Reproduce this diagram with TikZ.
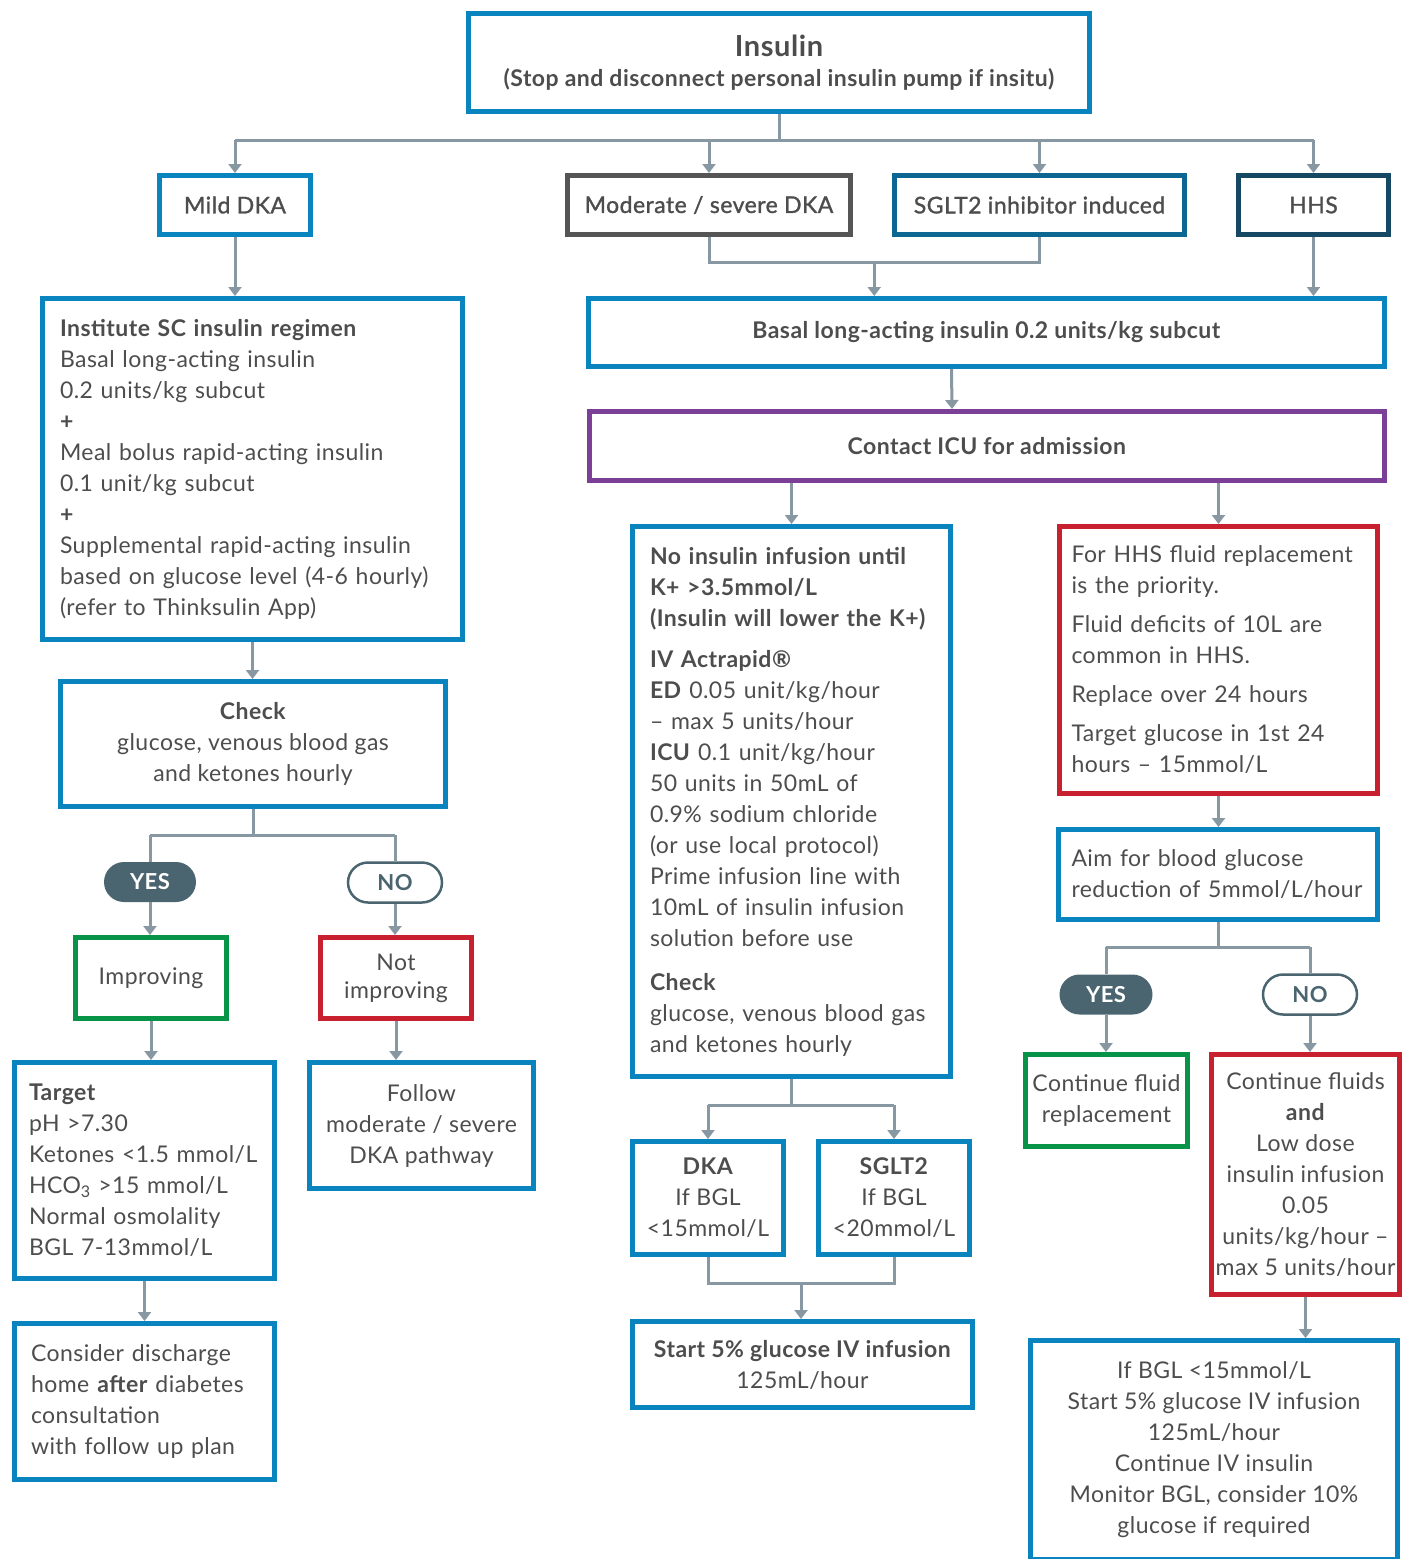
\documentclass[tikz,border=0pt]{standalone}
\usepackage{fontspec}
\setmainfont{Lato}[LetterSpace=2]
\newfontfamily\medfont{Lato}[LetterSpace=2,FakeBold=1.2]
\usetikzlibrary{arrows.meta,calc}
\definecolor{boxblue}{RGB}{10,132,190}
\definecolor{sgltblue}{RGB}{11,102,145}
\definecolor{hhsnavy}{RGB}{22,72,99}
\definecolor{modgrey}{RGB}{85,85,85}
\definecolor{icupurple}{RGB}{124,63,152}
\definecolor{alertred}{RGB}{200,32,46}
\definecolor{okgreen}{RGB}{8,148,72}
\definecolor{linkgrey}{RGB}{136,152,162}
\definecolor{pillgrey}{RGB}{74,101,112}
\definecolor{txtgrey}{RGB}{77,77,77}
\begin{document}
\begin{tikzpicture}[x=1pt,y=-1pt,
    box/.style={draw=boxblue,line width=5pt,inner sep=0pt,text=txtgrey,align=center,
      font=\fontsize{23}{31}\selectfont},
    lbox/.style={box,align=left},
    headbox/.style={box,minimum height=59pt,font=\fontsize{23}{31}\medfont},
    pill/.style={rounded corners=20pt,minimum height=40pt,inner sep=0pt,
      font=\fontsize{22}{26}\selectfont\bfseries},
    yespill/.style={pill,fill=pillgrey,text=white,minimum width=#1},
    nopill/.style={pill,draw=pillgrey,line width=2.5pt,fill=white,text=pillgrey,minimum width=#1},
    link/.style={draw=linkgrey,line width=3pt},
    arr/.style={link,-{Triangle[length=9pt,width=13pt]}}]
  \useasboundingbox (0,0) rectangle (1402,1559);
  % top row
  \node[box,minimum width=621pt,minimum height=98pt] (ins) at (779,62.5)
    {{\fontsize{29}{34}\selectfont\bfseries Insulin}\\[-1pt]\bfseries(Stop and disconnect personal insulin pump if insitu)};
  \node[headbox,minimum width=151pt] (mild) at (235,205) {Mild DKA};
  \node[headbox,draw=modgrey,minimum width=283pt] (mod) at (709,205) {Moderate / severe DKA};
  \node[headbox,draw=sgltblue,minimum width=290pt] (sglt) at (1039.5,205) {SGLT2 inhibitor induced};
  \node[headbox,draw=hhsnavy,minimum width=150pt] (hhs) at (1313.5,205) {HHS};
  % left branch
  \node[lbox,text width=385pt,minimum width=420pt,minimum height=341pt] (inst) at (252.5,469)
    {\textbf{Institute SC insulin regimen}\\Basal long-acting insulin\\0.2 units/kg subcut\\\textbf{+}\\
     Meal bolus rapid-acting insulin\\0.1 unit/kg subcut\\\textbf{+}\\Supplemental rapid-acting insulin\\
     based on glucose level (4-6 hourly)\\(refer to Thinksulin App)};
  \node[box,minimum width=385pt,minimum height=125pt] (check) at (253,744)
    {\textbf{Check}\\glucose, venous blood gas\\and ketones hourly};
  \node[yespill=92pt] (yes1) at (150,882) {YES};
  \node[nopill=94pt] (no1) at (395,882.5) {NO};
  \node[box,draw=okgreen,minimum width=151pt,minimum height=81pt] (impr) at (151,978) {Improving};
  \node[box,draw=alertred,minimum width=151pt,minimum height=81pt] (notimp) at (396,978) {Not\\[-3pt]improving};
  \node[lbox,text width=231pt,minimum width=260pt,minimum height=216pt] (target) at (144.5,1170.5)
    {\textbf{Target}\\pH >7.30\\Ketones <1.5 mmol/L\\HCO\textsubscript{3} >15 mmol/L\\Normal osmolality\\BGL 7-13mmol/L};
  \node[box,minimum width=224pt,minimum height=126pt] (follow) at (421.5,1125.5)
    {Follow\\moderate / severe\\DKA pathway};
  \node[lbox,text width=227pt,minimum width=260pt,minimum height=156pt] (discharge) at (144.5,1401.5)
    {Consider discharge\\home \textbf{after} diabetes\\consultation\\with follow up plan};
  % middle and right branch
  \node[box,minimum width=796pt,minimum height=68pt] (basal) at (986.5,332.5)
    {\textbf{Basal long-acting insulin 0.2 units/kg subcut}};
  \node[box,draw=icupurple,minimum width=795pt,minimum height=69pt] (icu) at (987,446)
    {\textbf{Contact ICU for admission}};
  \node[lbox,text width=283pt,minimum width=318pt,minimum height=550pt] (noins) at (791.5,801.5)
    {\textbf{No insulin infusion until}\\\textbf{K+ >3.5mmol/L}\\\textbf{(Insulin will lower the K+)}\\[10pt]
     \textbf{IV Actrapid®}\\\textbf{ED} 0.05 unit/kg/hour\\– max 5 units/hour\\\textbf{ICU} 0.1 unit/kg/hour\\
     50 units in 50mL of\\0.9\% sodium chloride\\(or use local protocol)\\Prime infusion line with\\
     10mL of insulin infusion\\solution before use\\[13pt]\textbf{Check}\\glucose, venous blood gas\\and ketones hourly};
  \node[box,minimum width=151pt,minimum height=113pt] (dka) at (708,1198) {\textbf{DKA}\\If BGL\\<15mmol/L};
  \node[box,minimum width=151pt,minimum height=113pt] (sgltb) at (894,1198) {\textbf{SGLT2}\\If BGL\\<20mmol/L};
  \node[box,minimum width=340pt,minimum height=86pt] (start) at (802.5,1364.5)
    {\textbf{Start 5\% glucose IV infusion}\\125mL/hour};
  \node[lbox,draw=alertred,text width=294pt,minimum width=318pt,minimum height=267pt] (hhsbox) at (1218.5,660)
    {For HHS fluid replacement\\is the priority.\\[8pt]Fluid deficits of 10L are\\common in HHS.\\[8pt]
     Replace over 24 hours\\[8pt]Target glucose in 1st 24\\hours – 15mmol/L};
  \node[lbox,text width=293pt,minimum width=319pt,minimum height=90pt] (aim) at (1218,874.5)
    {Aim for blood glucose\\reduction of 5mmol/L/hour};
  \node[yespill=93pt] (yes2) at (1106,994.5) {YES};
  \node[nopill=94pt] (no2) at (1310,994.5) {NO};
  \node[box,draw=okgreen,minimum width=162pt,minimum height=92pt] (contfl) at (1106.5,1100.5)
    {Continue fluid\\replacement};
  \node[box,draw=alertred,minimum width=188pt,minimum height=240pt] (lowdose) at (1305.5,1174.5)
    {Continue fluids\\\textbf{and}\\Low dose\\insulin infusion\\0.05\\units/kg/hour –\\max 5 units/hour};
  \node[box,minimum width=367pt,minimum height=219pt] (ifbgl) at (1214,1450)
    {If BGL <15mmol/L\\Start 5\% glucose IV infusion\\125mL/hour\\Continue IV insulin\\
     Monitor BGL, consider 10\%\\glucose if required};
  % connectors
  \draw[link] (ins.south) -- ++(0,26) coordinate (insbus);
  \draw[link] (insbus -| mild) -- (insbus -| hhs);
  \foreach \n in {mild,mod,sglt,hhs}
    \draw[arr] (insbus -| \n) -- (\n.north);
  \draw[link] (mod.south) -- ++(0,25) -| (sglt.south);
  \coordinate (modjoin) at ($(mod.south)!0.5!(sglt.south)+(0,25)$);
  \draw[arr] (modjoin) -- (modjoin |- basal.north);
  \draw[arr] (hhs.south) -- (hhs.south |- basal.north);
  \draw[arr] ([xshift=-35pt]basal.south) -- ([xshift=-35pt]icu.north);
  \draw[arr] (icu.south -| noins) -- (noins.north);
  \draw[arr] (icu.south -| hhsbox) -- (hhsbox.north);
  \draw[arr] (hhsbox.south) -- (hhsbox.south |- aim.north);
  \draw[link] (aim.south) -- ++(0,25) coordinate (aimbus);
  \draw[link] (aimbus -| yes2) -- (aimbus -| no2);
  \draw[link] (noins.south) -- ++(0,26) coordinate (noinsbus);
  \draw[link] (noinsbus -| dka) -- (noinsbus -| sgltb);
  \foreach \n in {dka,sgltb}
    \draw[arr] (noinsbus -| \n) -- (\n.north);
  \draw[link] (dka.south) -- ++(0,26) -| (sgltb.south);
  \coordinate (dkajoin) at ($(dka.south)!0.5!(sgltb.south)+(0,26)$);
  \draw[arr] (dkajoin) -- (dkajoin |- start.north);
  \draw[arr] (mild.south) -- (mild.south |- inst.north);
  \draw[arr] (inst.south) -- (inst.south |- check.north);
  \draw[link] (check.south) -- ++(0,26) coordinate (checkbus);
  \draw[link] (checkbus -| yes1) -- (checkbus -| no1);
  \foreach \p/\b in {yes1/checkbus,no1/checkbus,yes2/aimbus,no2/aimbus}
    \draw[link] (\b -| \p) -- (\p.north);
  \foreach \p/\q in {yes1/impr,no1/notimp,impr/target,notimp/follow,yes2/contfl,no2/lowdose,lowdose/ifbgl}
    \draw[arr] (\p.south) -- (\p.south |- \q.north);
  \draw[arr] (target.south) -- (discharge.north);
\end{tikzpicture}
\end{document}
